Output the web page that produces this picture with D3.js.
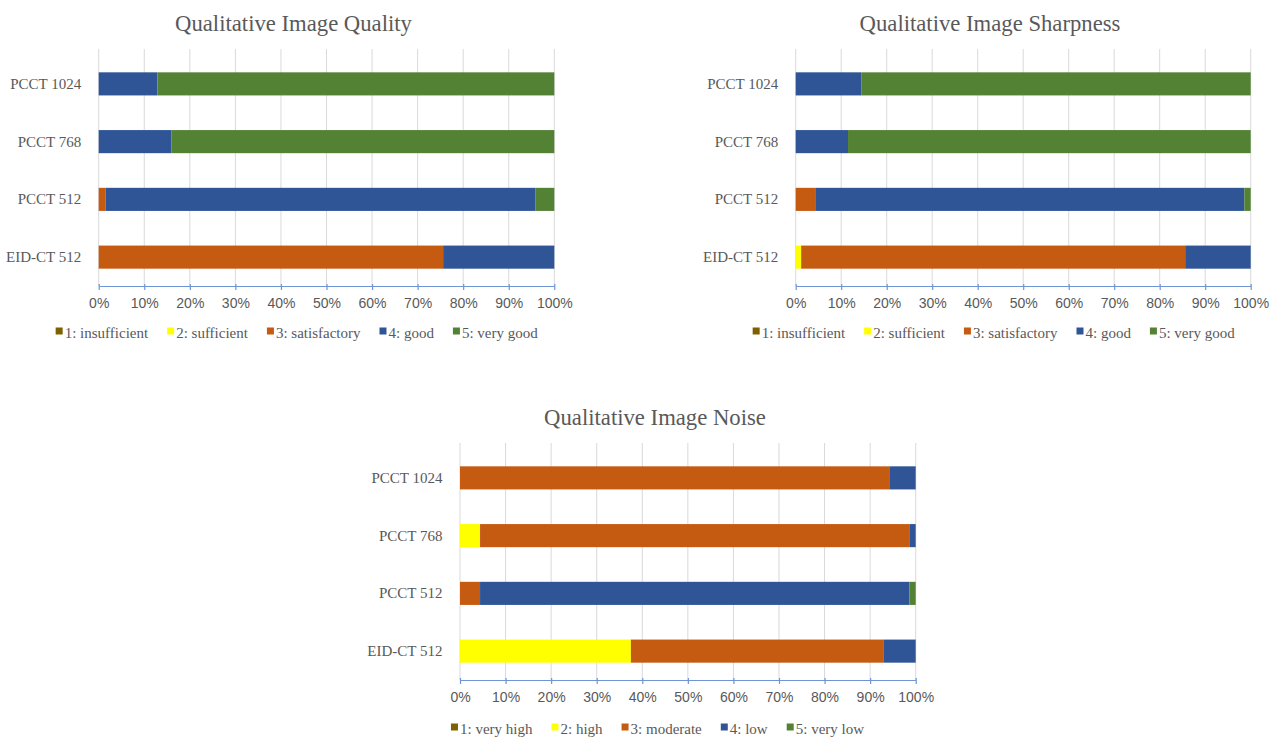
<!DOCTYPE html>
<html>
<head>
<meta charset="utf-8">
<script src="https://cdn.jsdelivr.net/npm/d3@7"></script>
<style>
  html, body { margin: 0; padding: 0; background: #ffffff; }
  svg { display: block; }
</style>
</head>
<body>
<svg id="chart" width="1277" height="740"></svg>
<script>
// Readers (rows, top to bottom) and score keys
const readers = ["PCCT 1024", "PCCT 768", "PCCT 512", "EID-CT 512"];
const scoreKeys = ["s1", "s2", "s3", "s4", "s5"];
const scoreColors = ["#7f6000", "#ffff00", "#c55a11", "#2f5597", "#548235"];

// Legend labels per panel
const qualityLabels = ["1: insufficient", "2: sufficient", "3: satisfactory", "4: good", "5: very good"];
const noiseLabels = ["1: very high", "2: high", "3: moderate", "4: low", "5: very low"];

// Share of ratings (%) for scores 1..5, one row per reader
const qualityShares = [
  [0, 0, 0, 12.9, 87.1],
  [0, 0, 0, 16.0, 84.0],
  [0, 0, 1.5, 94.4, 4.1],
  [0, 0, 75.6, 24.4, 0]
];
const sharpnessShares = [
  [0, 0, 0, 14.4, 85.6],
  [0, 0, 0, 11.5, 88.5],
  [0, 0, 4.3, 94.3, 1.4],
  [0, 1.2, 84.4, 14.4, 0]
];
const noiseShares = [
  [0, 0, 94.2, 5.8, 0],
  [0, 4.4, 94.2, 1.4, 0],
  [0, 0, 4.4, 94.2, 1.4],
  [0, 37.5, 55.4, 7.1, 0]
];

const tickValues = [0, 10, 20, 30, 40, 50, 60, 70, 80, 90, 100];

const svg = d3.select("#chart");
svg.append("rect").attr("width", 1277).attr("height", 740).attr("fill", "#ffffff");

const serif = "'Liberation Serif', 'Times New Roman', serif";
const sans = "'Liberation Sans', Arial, sans-serif";
const textGray = "#595959";

function drawPanel(cfg) {
  const g = svg.append("g");
  const x = d3.scaleLinear().domain([0, 100]).range([cfg.x0, cfg.x1]);
  const y = d3.scaleBand().domain(readers)
    .range([cfg.top, cfg.axisY])
    .paddingInner(0.6).paddingOuter(0.3);

  // Title
  g.append("text")
    .attr("x", cfg.titleX).attr("y", cfg.titleY)
    .attr("text-anchor", "middle")
    .attr("font-family", serif).attr("font-size", 22.7)
    .attr("fill", textGray)
    .text(cfg.title);

  // Vertical gridlines
  g.append("g").selectAll("line")
    .data(tickValues)
    .join("line")
    .attr("x1", d => x(d)).attr("x2", d => x(d))
    .attr("y1", cfg.top - 6).attr("y2", cfg.axisY)
    .attr("stroke", "#d9d9d9").attr("stroke-width", 1);

  // Stacked bars
  const table = cfg.shares.map((row, i) => {
    const o = { reader: readers[i] };
    scoreKeys.forEach((k, j) => { o[k] = row[j]; });
    return o;
  });
  const series = d3.stack().keys(scoreKeys)(table);
  g.append("g").selectAll("g")
    .data(series)
    .join("g")
    .attr("fill", (d, i) => scoreColors[i])
    .selectAll("rect")
    .data(d => d.filter(p => p[1] - p[0] > 0))
    .join("rect")
    .attr("x", d => x(d[0]))
    .attr("width", d => x(d[1]) - x(d[0]))
    .attr("y", d => y(d.data.reader))
    .attr("height", y.bandwidth());

  // Category labels
  g.append("g").selectAll("text")
    .data(readers)
    .join("text")
    .attr("x", cfg.x0 - 17.5)
    .attr("y", d => y(d) + y.bandwidth() / 2 + 5)
    .attr("text-anchor", "end")
    .attr("font-family", serif).attr("font-size", 15)
    .attr("fill", textGray)
    .text(d => d);

  // Bottom axis
  const axis = d3.axisBottom(x).tickValues(tickValues)
    .tickFormat(d => d + "%").tickSizeInner(4).tickSizeOuter(0);
  const ax = g.append("g").attr("transform", `translate(0,${cfg.axisY})`).call(axis);
  ax.select(".domain").attr("stroke", "#6f95d6").attr("stroke-width", 1.2);
  ax.selectAll(".tick line").attr("stroke", "#6f95d6").attr("stroke-width", 1.2)
    .attr("y1", -2).attr("y2", 4);
  ax.selectAll(".tick text")
    .attr("y", 12)
    .attr("font-family", sans).attr("font-size", 14)
    .attr("fill", textGray);

  // Legend, centred under the panel
  const leg = g.append("g");
  const items = leg.selectAll("g")
    .data(cfg.labels)
    .join("g");
  items.append("rect")
    .attr("width", 7).attr("height", 7)
    .attr("y", -5.5)
    .attr("fill", (d, i) => scoreColors[i]);
  items.append("text")
    .attr("x", 9)
    .attr("y", 0)
    .attr("dy", "0.32em")
    .attr("font-family", serif).attr("font-size", 15)
    .attr("fill", textGray)
    .text(d => d);
  let cursor = 0;
  items.each(function () {
    const w = 9 + d3.select(this).select("text").node().getComputedTextLength();
    d3.select(this).attr("transform", `translate(${cursor},0)`);
    cursor += w + 19;
  });
  const total = cursor - 19;
  leg.attr("transform", `translate(${cfg.legendX - total / 2},${cfg.legendY})`);
}

drawPanel({
  title: "Qualitative Image Quality", titleX: 293.5, titleY: 31,
  x0: 98.7, x1: 554.3, top: 55, axisY: 286,
  shares: qualityShares, labels: qualityLabels,
  legendX: 296.7, legendY: 333
});
drawPanel({
  title: "Qualitative Image Sharpness", titleX: 990, titleY: 31,
  x0: 795.7, x1: 1250.7, top: 55, axisY: 286,
  shares: sharpnessShares, labels: qualityLabels,
  legendX: 993.7, legendY: 333
});
drawPanel({
  title: "Qualitative Image Noise", titleX: 655, titleY: 425,
  x0: 460, x1: 915.7, top: 449, axisY: 680,
  shares: noiseShares, labels: noiseLabels,
  legendX: 657.5, legendY: 729
});
</script>
</body>
</html>
